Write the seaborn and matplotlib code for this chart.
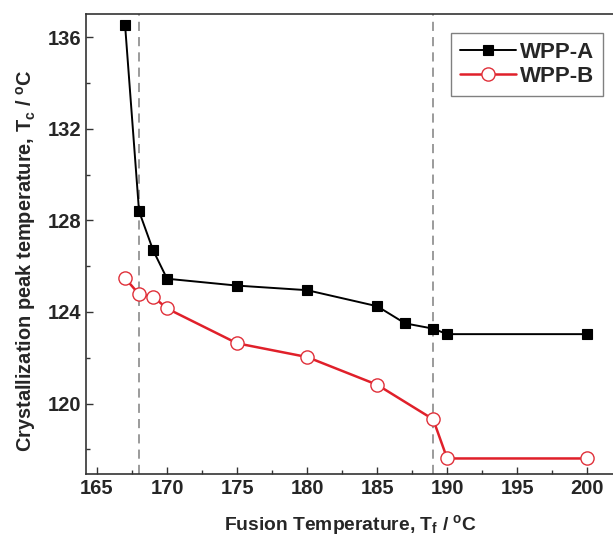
import matplotlib
matplotlib.use("Agg")
import matplotlib.pyplot as plt
import seaborn as sns
import pandas as pd
from matplotlib.ticker import MultipleLocator

# Data
fusion_temp = [167, 168, 169, 170, 175, 180, 185, 187, 189, 190, 200]
wpp_a = [136.55, 128.4, 126.7, 125.45, 125.15, 124.95, 124.25, 123.5, 123.27, 123.03, 123.03]
fusion_temp_b = [167, 168, 169, 170, 175, 180, 185, 189, 190, 200]
wpp_b = [125.48, 124.77, 124.67, 124.15, 122.63, 122.03, 120.82, 119.31, 117.6, 117.6]
vlines_x = [168, 189]
x_ticks = [165, 170, 175, 180, 185, 190, 195, 200]
y_ticks = [120, 124, 128, 132, 136]

df_a = pd.DataFrame({"x": fusion_temp, "y": wpp_a})
df_b = pd.DataFrame({"x": fusion_temp_b, "y": wpp_b})

sns.set_theme(style="ticks")
plt.rcParams["font.family"] = ["Liberation Sans", "DejaVu Sans"]
plt.rcParams["mathtext.fontset"] = "custom"
plt.rcParams["mathtext.rm"] = "Liberation Sans:bold"
plt.rcParams["mathtext.it"] = "Liberation Sans:bold"
plt.rcParams["mathtext.bf"] = "Liberation Sans:bold"

fig = plt.figure(figsize=(6.13, 5.37), dpi=100)
ax = fig.add_axes([0.140, 0.1164, 0.865, 0.857])

for xv in vlines_x:
    ax.axvline(xv, color="#808080", lw=1.1, ls=(0, (6, 4)), zorder=1)

sns.lineplot(data=df_a, x="x", y="y", ax=ax, color="black", lw=1.4,
             marker="s", markersize=7.5, markerfacecolor="black",
             markeredgecolor="black", markeredgewidth=0.8, label="WPP-A",
             sort=False, zorder=3)
sns.lineplot(data=df_b, x="x", y="y", ax=ax, color="#e0202a", lw=1.8,
             marker="o", markersize=9.5, markerfacecolor="white",
             markeredgecolor="#e0303a", markeredgewidth=1.0, label="WPP-B",
             sort=False, zorder=3)

ax.set_xlim(164.2, 202.06)
ax.set_ylim(116.9, 137.0)
ax.set_xticks(x_ticks)
ax.set_yticks(y_ticks)
ax.xaxis.set_minor_locator(MultipleLocator(2.5))
ax.yaxis.set_minor_locator(MultipleLocator(2))
ax.tick_params(which="major", direction="in", length=5, width=1.0, labelsize=14.5, color="#333333")
ax.tick_params(which="minor", direction="in", length=3, width=1.0, color="#333333")
for lab in ax.get_xticklabels() + ax.get_yticklabels():
    lab.set_fontweight("bold")

for s in ax.spines.values():
    s.set_color("#333333")
    s.set_linewidth(1.2)

ax.set_xlabel(r"Fusion Temperature, T$_{\mathrm{f}}$ / $^{\mathrm{o}}$C", fontsize=13.9,
              fontweight="bold")
ax.set_ylabel(r"Crystallization peak temperature, T$_{\mathrm{c}}$ / $^{\mathrm{o}}$C",
              fontsize=14.4, fontweight="bold")
ax.xaxis.set_label_coords(0.5, -0.084, transform=ax.transAxes)
ax.yaxis.set_label_coords(-0.091, 0.464, transform=ax.transAxes)

leg = ax.legend(loc="upper right", bbox_to_anchor=(0.976, 0.96), frameon=True,
                fancybox=False, edgecolor="#808080", framealpha=1,
                prop={"weight": "bold", "size": 16}, handlelength=2.5,
                handletextpad=0.2, borderpad=0.4, labelspacing=0.15,
                borderaxespad=0)
leg.get_frame().set_linewidth(1.0)

fig.savefig("out.png", dpi=100)
